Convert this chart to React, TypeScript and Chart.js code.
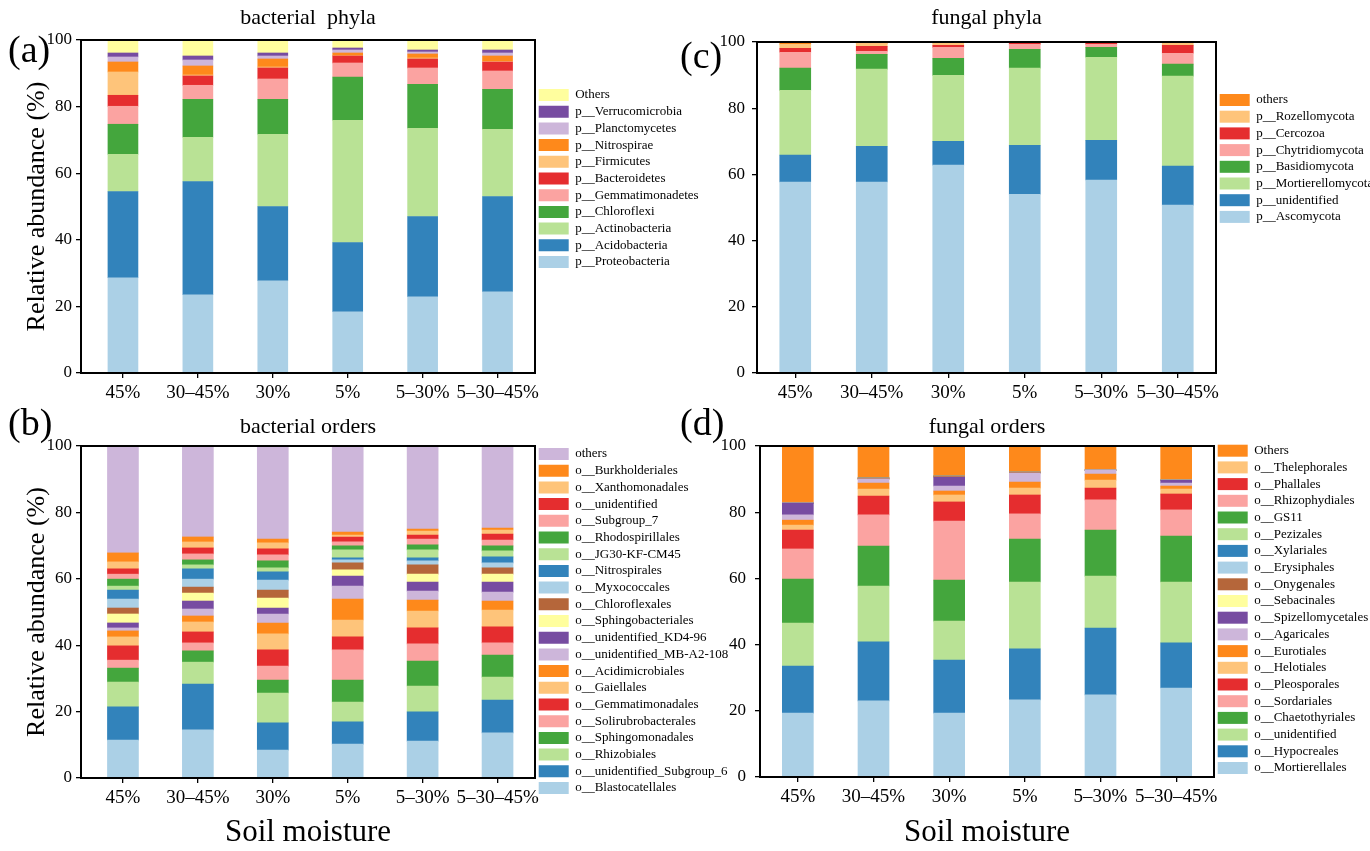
import React, { useEffect, useRef } from "react";
import { Chart, registerables } from "chart.js";

Chart.register(...registerables);

const SERIF = "'Times New Roman', 'Liberation Serif', Times, serif";
Chart.defaults.font.family = SERIF;
Chart.defaults.color = "#000";

// ---------- shared ----------
const CATEGORIES = ["45%", "30–45%", "30%", "5%", "5–30%", "5–30–45%"];
const Y_TICK_STEP = 20;

const PALETTE = [
  "#abd0e6", "#3283bb", "#b9e295", "#44a63d", "#fba3a1", "#e52d2f",
  "#fec47a", "#fe891b", "#cdb6da", "#774ca1", "#fffe9e", "#b5663a",
];

// ---------- (a) bacterial phyla (bottom -> top) ----------
const phylaBNames = [
  "p__Proteobacteria", "p__Acidobacteria", "p__Actinobacteria", "p__Chloroflexi",
  "p__Gemmatimonadetes", "p__Bacteroidetes", "p__Firmicutes", "p__Nitrospirae",
  "p__Planctomycetes", "p__Verrucomicrobia", "Others",
];
const phylaBRows = [
  [28.6, 23.5, 27.7, 18.4, 22.9, 24.4],
  [25.9, 34.0, 22.3, 20.8, 24.1, 28.6],
  [11.2, 13.3, 21.7, 36.7, 26.5, 20.2],
  [9.0, 11.4, 10.5, 13.0, 13.2, 12.0],
  [5.4, 4.2, 6.1, 4.2, 4.9, 5.5],
  [3.3, 2.8, 3.3, 2.1, 2.7, 2.7],
  [7.0, 0.3, 0.3, 0.1, 0.3, 0.2],
  [3.0, 2.7, 2.4, 0.8, 1.2, 1.6],
  [1.5, 1.8, 0.9, 0.9, 0.6, 0.9],
  [1.2, 1.2, 0.9, 0.6, 0.6, 0.9],
  [3.9, 4.8, 3.9, 2.4, 3.0, 3.0],
];

// ---------- (b) bacterial orders ----------
const ordersBNames = [
  "o__Blastocatellales", "o__unidentified_Subgroup_6", "o__Rhizobiales", "o__Sphingomonadales",
  "o__Solirubrobacterales", "o__Gemmatimonadales", "o__Gaiellales", "o__Acidimicrobiales",
  "o__unidentified_MB-A2-108", "o__unidentified_KD4-96", "o__Sphingobacteriales", "o__Chloroflexales",
  "o__Myxococcales", "o__Nitrospirales", "o__JG30-KF-CM45", "o__Rhodospirillales",
  "o__Subgroup_7", "o__unidentified", "o__Xanthomonadales", "o__Burkholderiales", "others",
];
const ordersBRows = [
  [11.4, 14.5, 8.4, 10.2, 11.1, 13.6],
  [10.0, 13.8, 8.2, 6.7, 8.8, 9.9],
  [7.5, 6.6, 9.0, 6.0, 7.8, 6.9],
  [4.2, 3.4, 3.9, 6.6, 7.5, 6.6],
  [2.4, 2.4, 4.2, 9.1, 5.2, 3.7],
  [4.3, 3.3, 4.9, 3.9, 4.8, 4.8],
  [2.7, 3.0, 4.8, 5.1, 5.1, 5.1],
  [1.8, 1.8, 3.3, 6.3, 3.3, 2.7],
  [0.9, 2.1, 2.7, 3.9, 2.7, 2.7],
  [1.5, 2.4, 1.8, 3.0, 2.7, 3.0],
  [2.7, 2.4, 3.0, 1.9, 2.4, 2.4],
  [1.8, 1.8, 2.4, 2.1, 2.8, 1.9],
  [2.7, 2.4, 3.0, 0.9, 1.2, 1.5],
  [2.7, 3.1, 2.5, 0.6, 0.9, 1.8],
  [1.2, 1.2, 1.2, 2.4, 2.4, 1.8],
  [2.1, 1.5, 2.1, 1.2, 1.5, 1.5],
  [1.5, 1.8, 1.8, 1.2, 1.8, 1.8],
  [1.6, 1.8, 1.8, 1.5, 1.2, 1.8],
  [2.1, 1.8, 1.8, 0.6, 1.2, 1.2],
  [2.7, 1.5, 1.2, 0.9, 0.6, 0.6],
  [32.2, 27.4, 28.0, 25.9, 25.0, 24.7],
];

// ---------- (c) fungal phyla ----------
const phylaFNames = [
  "p__Ascomycota", "p__unidentified", "p__Mortierellomycota", "p__Basidiomycota",
  "p__Chytridiomycota", "p__Cercozoa", "p__Rozellomycota", "others",
];
const phylaFRows = [
  [57.7, 57.7, 62.8, 54.0, 58.3, 50.7],
  [8.1, 10.8, 7.2, 14.8, 12.0, 11.8],
  [19.6, 23.3, 19.9, 23.3, 25.1, 27.2],
  [6.7, 4.5, 5.2, 5.7, 3.0, 3.6],
  [4.8, 0.9, 3.3, 1.5, 0.9, 3.3],
  [1.2, 1.5, 0.6, 0.3, 0.3, 2.4],
  [1.2, 0.9, 0.7, 0.2, 0.2, 0.9],
  [0.7, 0.4, 0.3, 0.2, 0.2, 0.1],
];

// ---------- (d) fungal orders ----------
const ordersFNames = [
  "o__Mortierellales", "o__Hypocreales", "o__unidentified", "o__Chaetothyriales",
  "o__Sordariales", "o__Pleosporales", "o__Helotiales", "o__Eurotiales",
  "o__Agaricales", "o__Spizellomycetales", "o__Sebacinales", "o__Onygenales",
  "o__Erysiphales", "o__Xylariales", "o__Pezizales", "o__GS11",
  "o__Rhizophydiales", "o__Phallales", "o__Thelephorales", "Others",
];
const ordersFRows = [
  [19.3, 23.0, 19.3, 23.3, 24.8, 26.9],
  [14.2, 17.8, 16.0, 15.4, 20.2, 13.6],
  [13.0, 16.9, 11.8, 20.2, 15.7, 18.4],
  [13.3, 12.1, 12.4, 13.0, 13.9, 13.9],
  [9.1, 9.4, 17.8, 7.6, 9.1, 7.9],
  [5.7, 5.7, 5.8, 5.7, 3.6, 4.8],
  [1.5, 2.1, 2.1, 2.1, 2.4, 1.5],
  [1.5, 1.8, 1.2, 1.8, 1.8, 0.9],
  [1.6, 1.2, 1.5, 2.7, 1.2, 0.9],
  [3.6, 0, 2.7, 0, 0, 0.9],
  [0, 0, 0, 0, 0, 0],
  [0, 0.3, 0.3, 0.3, 0, 0],
  [0, 0, 0, 0, 0, 0],
  [0, 0, 0, 0, 0, 0],
  [0, 0, 0, 0, 0, 0],
  [0, 0, 0, 0, 0, 0],
  [0, 0, 0, 0, 0, 0],
  [0, 0, 0, 0, 0, 0],
  [0.2, 0, 0, 0, 0.2, 0.2],
  [17.0, 9.7, 9.1, 7.9, 7.1, 10.1],
];

// ---------- chart plumbing ----------
const LEGEND_FONT = 13;
const LEGEND_BOX_W = 30;
const LEGEND_PAD = 3.7;

const framePlugin = {
  id: "frame",
  afterDatasetsDraw(chart: any) {
    const { ctx, chartArea } = chart;
    const { left, top, right, bottom } = chartArea;
    ctx.save();
    ctx.strokeStyle = "#000";
    ctx.lineWidth = 2;
    ctx.strokeRect(left, top, right - left, bottom - top);
    ctx.restore();
  },
};

function legendNaturalWidth(names: string[]): number {
  const c = document.createElement("canvas").getContext("2d");
  if (!c) return 180;
  c.font = `${LEGEND_FONT}px ${SERIF}`;
  let maxText = 0;
  for (const n of names) maxText = Math.max(maxText, c.measureText(n).width);
  return LEGEND_PAD + LEGEND_BOX_W + LEGEND_FONT / 2 + maxText + 10;
}

type Spec = {
  names: string[];
  rows: number[][];
  title: string;
  left: number;
  top: number;
  width: number;
  height: number;
  chartRight: number;
  legendTitlePad: number;
  yAxisWidth: number;
  xAxisHeight: number;
  titlePadTop: number;
  titlePadBottom: number;
  xMin: number;
  xMax: number;
  barThickness: number;
  yTickPad: number;
  yTitle: boolean;
  xTitle: boolean;
};

function makeConfig(s: Spec): any {
  const room = s.width - s.chartRight;
  const natural = legendNaturalWidth(s.names);
  const legendWidth = Math.min(natural, room);
  const padRight = Math.max(0, room - legendWidth);

  const tickGrid = {
    display: true,
    drawOnChartArea: false,
    drawTicks: true,
    offset: false,
    tickLength: 5,
    color: "#000",
    lineWidth: 1.3,
  };
  return {
    type: "bar",
    data: {
      datasets: s.names.map((name, k) => ({
        label: name,
        data: s.rows[k].map((v, i) => ({ x: i, y: v })),
        backgroundColor: PALETTE[k % PALETTE.length],
        borderWidth: 0,
        barThickness: s.barThickness,
      })),
    },
    options: {
      animation: false,
      responsive: false,
      maintainAspectRatio: false,
      events: [],
      layout: { padding: { left: 0, top: 0, bottom: 0, right: padRight } },
      plugins: {
        tooltip: { enabled: false },
        title: {
          display: true,
          text: s.title,
          fullSize: false,
          color: "#000",
          font: { family: SERIF, size: 22, weight: "normal" },
          padding: { top: s.titlePadTop, bottom: s.titlePadBottom },
        },
        legend: {
          position: "right",
          align: "start",
          reverse: true,
          maxWidth: legendWidth,
          title: {
            display: true,
            text: " ",
            font: { size: 10 },
            padding: { top: s.legendTitlePad, bottom: 0 },
          },
          labels: {
            boxWidth: LEGEND_BOX_W,
            boxHeight: 12,
            padding: LEGEND_PAD,
            color: "#000",
            font: { family: SERIF, size: LEGEND_FONT },
          },
        },
      },
      scales: {
        x: {
          type: "linear",
          stacked: true,
          offset: false,
          min: s.xMin,
          max: s.xMax,
          afterBuildTicks: (axis: any) => {
            axis.ticks = CATEGORIES.map((_, i) => ({ value: i }));
          },
          afterFit: (axis: any) => {
            axis.height = s.xAxisHeight;
          },
          ticks: {
            autoSkip: false,
            maxRotation: 0,
            minRotation: 0,
            padding: 4,
            color: "#000",
            font: { family: SERIF, size: 19 },
            callback: (v: any) => CATEGORIES[Math.round(Number(v))] ?? "",
          },
          grid: tickGrid,
          border: { display: false },
          title: s.xTitle
            ? {
                display: true,
                text: "Soil moisture",
                color: "#000",
                font: { family: SERIF, size: 31 },
                padding: { top: 0, bottom: 0 },
              }
            : { display: false },
        },
        y: {
          stacked: true,
          min: 0,
          max: 100,
          afterFit: (axis: any) => {
            axis.width = s.yAxisWidth;
          },
          ticks: {
            stepSize: Y_TICK_STEP,
            padding: s.yTickPad,
            color: "#000",
            font: { family: SERIF, size: 17 },
          },
          grid: tickGrid,
          border: { display: false },
          title: s.yTitle
            ? {
                display: true,
                text: "Relative abundance (%)",
                color: "#000",
                font: { family: SERIF, size: 26 },
                padding: { top: 22, bottom: 0 },
              }
            : { display: false },
        },
      },
    },
    plugins: [framePlugin],
  };
}

const SPECS: Spec[] = [
  {
    names: phylaBNames, rows: phylaBRows, title: "bacterial  phyla",
    left: 0, top: 0, width: 740, height: 405, chartRight: 535,
    legendTitlePad: 72.8, yAxisWidth: 81, xAxisHeight: 32,
    titlePadTop: 4.8, titlePadBottom: 8.8, xMin: -0.56, xMax: 5.5,
    barThickness: 30, yTickPad: 4, yTitle: true, xTitle: false,
  },
  {
    names: ordersBNames, rows: ordersBRows, title: "bacterial orders",
    left: 0, top: 405, width: 745, height: 446, chartRight: 535,
    legendTitlePad: 26.8, yAxisWidth: 81, xAxisHeight: 73,
    titlePadTop: 8.8, titlePadBottom: 5.8, xMin: -0.56, xMax: 5.5,
    barThickness: 31, yTickPad: 4, yTitle: true, xTitle: true,
  },
  {
    names: phylaFNames, rows: phylaFRows, title: "fungal phyla",
    left: 685, top: 0, width: 685, height: 405, chartRight: 531,
    legendTitlePad: 77.8, yAxisWidth: 72, xAxisHeight: 32,
    titlePadTop: 4.8, titlePadBottom: 10.8, xMin: -0.5, xMax: 5.5,
    barThickness: 31, yTickPad: 7, yTitle: false, xTitle: false,
  },
  {
    names: ordersFNames, rows: ordersFRows, title: "fungal orders",
    left: 685, top: 405, width: 685, height: 446, chartRight: 529,
    legendTitlePad: 23.5, yAxisWidth: 75, xAxisHeight: 74,
    titlePadTop: 8.8, titlePadBottom: 5.8, xMin: -0.5, xMax: 5.5,
    barThickness: 31, yTickPad: 9, yTitle: false, xTitle: true,
  },
];

const PANEL_LABELS = [
  { text: "(a)", left: 8, top: 30 },
  { text: "(b)", left: 8, top: 403 },
  { text: "(c)", left: 680, top: 36 },
  { text: "(d)", left: 680, top: 403 },
];

function Panel({ spec }: { spec: Spec }) {
  const ref = useRef<HTMLCanvasElement | null>(null);
  useEffect(() => {
    if (!ref.current) return;
    const chart = new Chart(ref.current, makeConfig(spec));
    return () => chart.destroy();
  }, [spec]);
  return (
    <canvas
      ref={ref}
      width={spec.width}
      height={spec.height}
      style={{
        position: "absolute",
        left: spec.left,
        top: spec.top,
        width: spec.width,
        height: spec.height,
        display: "block",
      }}
    />
  );
}

export default function App() {
  return (
    <div
      style={{
        position: "absolute",
        left: 0,
        top: 0,
        width: 1370,
        height: 851,
        background: "#fff",
        overflow: "hidden",
      }}
    >
      {SPECS.map((s, i) => (
        <Panel key={i} spec={s} />
      ))}
      {PANEL_LABELS.map((p) => (
        <div
          key={p.text}
          style={{
            position: "absolute",
            left: p.left,
            top: p.top,
            fontFamily: SERIF,
            fontSize: 38,
            lineHeight: "38px",
            color: "#000",
            pointerEvents: "none",
          }}
        >
          {p.text}
        </div>
      ))}
    </div>
  );
}
